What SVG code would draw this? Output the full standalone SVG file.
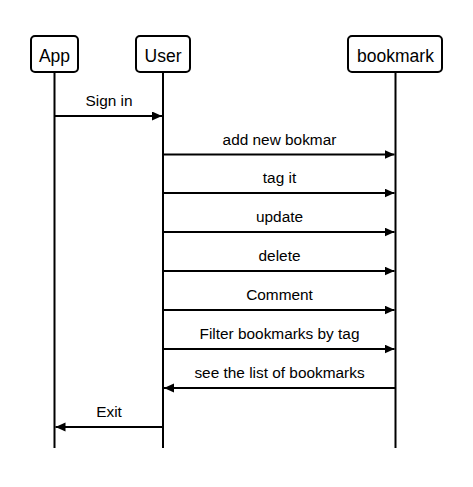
<svg xmlns="http://www.w3.org/2000/svg" width="473" height="487" viewBox="0 0 473 487">
<style>
.box{fill:#fff;stroke:#000;stroke-width:2}
.life{stroke:#000;stroke-width:2}
.msg{stroke:#000;stroke-width:2;fill:none;marker-end:url(#ah)}
.nl{font-family:"Liberation Sans",Arial,sans-serif;font-size:17.5px;text-anchor:middle;fill:#000}
.ml{font-family:"Liberation Sans",Arial,sans-serif;font-size:15.4px;text-anchor:middle;fill:#000}
</style>
<defs>
<marker id="ah" markerUnits="userSpaceOnUse" markerWidth="12" markerHeight="10" refX="10" refY="4.5" orient="auto">
<path d="M0,0 L10,4.5 L0,9 Z" fill="#000"/>
</marker>
</defs>
<rect width="473" height="487" fill="#fff"/>
<g id="lifelines">
<line class="life" x1="54.5" y1="72" x2="54.5" y2="448"/>
<line class="life" x1="163" y1="72" x2="163" y2="448"/>
<line class="life" x1="395.5" y1="72" x2="395.5" y2="448"/>
</g>
<g id="node-app">
<rect class="box" x="31" y="36" width="47" height="36" rx="4"/>
<text class="nl" x="54.5" y="62">App</text>
</g>
<g id="node-user">
<rect class="box" x="136" y="36" width="54" height="36" rx="4"/>
<text class="nl" x="163" y="62">User</text>
</g>
<g id="node-bookmark">
<rect class="box" x="348" y="36" width="94" height="36" rx="4"/>
<text class="nl" x="395.5" y="62">bookmark</text>
</g>
<g id="connectors">
<line class="msg" x1="54.5" y1="116" x2="162" y2="116"/>
<line class="msg" x1="163" y1="154.5" x2="394.5" y2="154.5"/>
<line class="msg" x1="163" y1="193" x2="394.5" y2="193"/>
<line class="msg" x1="163" y1="232" x2="394.5" y2="232"/>
<line class="msg" x1="163" y1="271" x2="394.5" y2="271"/>
<line class="msg" x1="163" y1="310" x2="394.5" y2="310"/>
<line class="msg" x1="163" y1="349" x2="394.5" y2="349"/>
<line class="msg" x1="395.5" y1="388" x2="164" y2="388"/>
<line class="msg" x1="163" y1="427" x2="55.5" y2="427"/>
</g>
<g id="labels">
<text class="ml" x="109" y="106">Sign in</text>
<text class="ml" x="279.5" y="144.5">add new bokmar</text>
<text class="ml" x="279.5" y="183">tag it</text>
<text class="ml" x="279.5" y="222">update</text>
<text class="ml" x="279.5" y="261">delete</text>
<text class="ml" x="279.5" y="300">Comment</text>
<text class="ml" x="279.5" y="339">Filter bookmarks by tag</text>
<text class="ml" x="279.5" y="378">see the list of bookmarks</text>
<text class="ml" x="109" y="417">Exit</text>
</g>
</svg>
